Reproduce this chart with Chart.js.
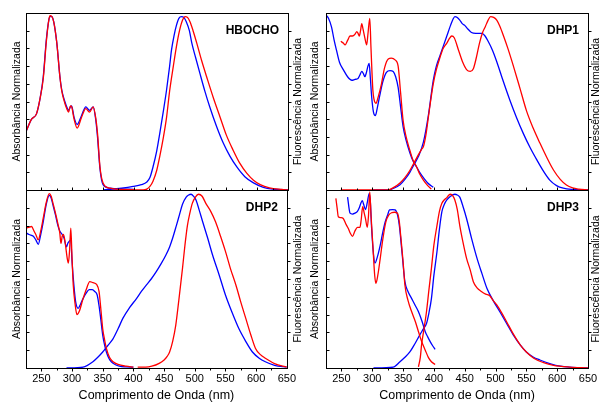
<!DOCTYPE html>
<html>
<head>
<meta charset="utf-8">
<script src="https://cdn.jsdelivr.net/npm/chart.js@4.4.1/dist/chart.umd.min.js"></script>
<style>
  html, body { margin: 0; padding: 0; background: #fff; }
  #wrap { position: relative; width: 602px; height: 403px; overflow: hidden; }
  canvas { position: absolute; }
</style>
</head>
<body>
<div id="wrap">
  <canvas id="c1" width="300" height="200" style="left:0;top:0"></canvas>
  <canvas id="c2" width="313" height="200" style="left:289px;top:0"></canvas>
  <canvas id="c3" width="300" height="223" style="left:0;top:180px"></canvas>
  <canvas id="c4" width="313" height="223" style="left:289px;top:180px"></canvas>
</div>
<script>
// axis ticks
const xTickLabels = [250, 300, 350, 400, 450, 500, 550, 600, 650];
const xTickMarks = [250, 275, 300, 325, 350, 375, 400, 425, 450, 475, 500, 525, 550, 575, 600, 625];
const yTickMarks = [0.1, 0.2, 0.3, 0.4, 0.5, 0.6, 0.7, 0.8, 0.9];

// HBOCHO
const hbAbsX = [225,234,242,248,253,258,262,264,267,270,275,280,283,288,291,294,297,299,303,308,315,322,328,334,338,341,345,350,361,380,400];
const hbAbsBlue = [0.33,0.40,0.43,0.52,0.64,0.85,0.96,0.98,0.98,0.95,0.83,0.64,0.565,0.50,0.47,0.45,0.47,0.475,0.41,0.37,0.42,0.47,0.45,0.47,0.40,0.30,0.12,0.03,0.01,0.005,0.004];
const hbAbsRed = [0.33,0.40,0.43,0.52,0.63,0.84,0.96,0.985,0.98,0.95,0.83,0.64,0.56,0.49,0.46,0.44,0.475,0.47,0.40,0.35,0.41,0.46,0.44,0.47,0.41,0.32,0.13,0.04,0.01,0.003,0.002];
const hbFlBlueX = [350,380,399,412,421,426,431,437,442,448,453,458,461,465,469,473,477,481,485,490,494,500,507,515,523,534,545,556,567,580,594,610,626,650];
const hbFlBlue = [0,0.01,0.02,0.03,0.045,0.07,0.13,0.22,0.32,0.45,0.565,0.70,0.79,0.87,0.93,0.97,0.98,0.975,0.95,0.90,0.83,0.75,0.66,0.56,0.47,0.36,0.265,0.19,0.13,0.075,0.04,0.015,0.005,0];
const hbFlRedX = [380,415,421,426,431,437,442,448,453,458,464,469,474,479,483,487,491,496,502,510,518,529,540,550,561,572,583,594,605,620,640,650];
const hbFlRed = [0,0,0.005,0.02,0.05,0.11,0.19,0.30,0.41,0.56,0.70,0.81,0.90,0.96,0.98,0.975,0.95,0.90,0.83,0.73,0.64,0.52,0.41,0.31,0.225,0.15,0.095,0.055,0.03,0.012,0.003,0];

// DHP1
const d1AbsBlueX = [225,229,234,238,242,247,253,260,267,272,277,280,283,286,288,291,293,295,297,299,302,305,308,312,317,323,329,334,338,342,346,350,355,361,366,372,377,383,390,399];
const d1AbsBlue = [0.99,0.97,0.92,0.85,0.79,0.72,0.68,0.64,0.62,0.625,0.63,0.65,0.67,0.655,0.64,0.67,0.70,0.715,0.63,0.53,0.44,0.42,0.46,0.53,0.61,0.665,0.675,0.67,0.64,0.58,0.47,0.36,0.28,0.21,0.165,0.13,0.10,0.07,0.04,0.015];
const d1AbsRedX = [249,253,256,260,264,268,272,275,277,279,281,283,285,288,291,293,296,298,301,303,306,310,315,320,326,331,337,342,346,350,355,361,366,372,377,383,390,396];
const d1AbsRed = [0.84,0.83,0.82,0.845,0.87,0.87,0.88,0.895,0.885,0.87,0.90,0.94,0.91,0.86,0.82,0.88,0.97,0.80,0.565,0.51,0.49,0.53,0.60,0.69,0.74,0.745,0.735,0.70,0.55,0.395,0.30,0.225,0.17,0.13,0.09,0.056,0.025,0.005];
const d1FlBlueX = [300,326,335,345,353,361,368,375,383,391,399,404,410,415,421,427,431,434,438,442,446,450,455,461,468,473,478,483,488,495,502,512,523,534,545,556,567,578,588,599,610,625,650];
const d1FlBlue = [0,0,0.01,0.03,0.06,0.10,0.145,0.19,0.27,0.42,0.62,0.70,0.76,0.81,0.87,0.93,0.965,0.98,0.975,0.96,0.94,0.93,0.91,0.89,0.885,0.885,0.885,0.87,0.84,0.79,0.725,0.62,0.51,0.41,0.32,0.24,0.17,0.105,0.056,0.025,0.01,0.003,0];
const d1FlRedX = [249,300,326,335,345,353,361,368,375,380,383,387,391,395,399,404,410,415,421,425,429,433,440,447,453,459,464,469,474,479,483,488,492,497,502,507,513,520,529,540,550,561,572,583,594,605,615,625,635,650];
const d1FlRed = [0,0,0,0.015,0.04,0.07,0.11,0.155,0.20,0.23,0.245,0.31,0.41,0.51,0.60,0.68,0.75,0.80,0.83,0.855,0.87,0.86,0.79,0.72,0.68,0.67,0.685,0.75,0.83,0.89,0.92,0.96,0.98,0.975,0.96,0.925,0.87,0.80,0.70,0.57,0.45,0.35,0.265,0.185,0.113,0.06,0.028,0.012,0.005,0];

// DHP2
const d2AbsBlueX = [225,230,237,241,245,249,253,258,263,266,269,273,277,280,284,287,291,293,295,298,300,303,306,310,314,318,323,328,333,337,341,344,347,350,353,356,360,364,370,377,388,400];
const d2AbsBlue = [0.76,0.75,0.74,0.72,0.695,0.75,0.82,0.92,0.97,0.955,0.915,0.86,0.80,0.77,0.75,0.73,0.68,0.70,0.71,0.72,0.60,0.466,0.37,0.335,0.36,0.39,0.42,0.44,0.44,0.43,0.41,0.35,0.27,0.185,0.13,0.09,0.055,0.035,0.02,0.01,0.006,0.005];
const d2AbsRedX = [225,229,234,238,241,245,249,253,258,263,266,269,273,277,280,282,284,286,289,292,294,296,298,300,302,305,308,312,318,323,329,334,340,344,347,350,353,356,361,367,375,388,400];
const d2AbsRed = [0.785,0.79,0.795,0.77,0.75,0.72,0.77,0.84,0.93,0.98,0.965,0.925,0.87,0.81,0.76,0.70,0.74,0.75,0.70,0.62,0.59,0.66,0.785,0.62,0.466,0.36,0.30,0.32,0.39,0.44,0.485,0.48,0.47,0.43,0.33,0.22,0.16,0.11,0.06,0.035,0.02,0.01,0.005];
const d2FlBlueX = [291,318,334,342,350,358,367,375,383,394,405,413,421,429,437,445,453,459,464,470,475,480,486,490,494,498,502,507,513,521,529,540,550,561,572,583,594,605,615,630,650];
const d2FlBlue = [0,0.005,0.035,0.06,0.09,0.125,0.165,0.22,0.28,0.34,0.39,0.43,0.466,0.50,0.54,0.585,0.635,0.68,0.73,0.80,0.86,0.92,0.96,0.972,0.976,0.965,0.944,0.89,0.82,0.73,0.635,0.52,0.41,0.31,0.22,0.15,0.09,0.055,0.035,0.015,0.005];
const d2FlRedX = [407,420,430,442,450,455,459,464,469,474,480,484,488,492,496,501,506,512,518,526,534,542,550,558,567,575,583,591,599,607,615,630,650];
const d2FlRed = [0.005,0.005,0.01,0.026,0.045,0.065,0.09,0.15,0.24,0.38,0.56,0.69,0.80,0.87,0.925,0.96,0.976,0.965,0.925,0.88,0.82,0.74,0.655,0.56,0.466,0.37,0.28,0.19,0.11,0.075,0.055,0.025,0.005];

// DHP3
const d3AbsBlueX = [260,264,268,272,276,279,282,284,286,289,292,295,297,299,302,304.5,308,313,317,321,325,328,333,337,341,344,348,353,358,364,370,375,381,386,390,394,398,402];
const d3AbsBlue = [0.96,0.87,0.865,0.87,0.88,0.90,0.93,0.94,0.92,0.89,0.93,0.98,0.93,0.785,0.64,0.59,0.62,0.69,0.76,0.82,0.86,0.888,0.89,0.888,0.86,0.80,0.66,0.485,0.43,0.39,0.35,0.316,0.26,0.204,0.175,0.148,0.125,0.105];
const d3AbsRedX = [241,243,245,249,253,257,261,264,268,272,276,280,282,284.5,287,289,292,294,296,298,301,304,306,309,313,317,322,327,332,336,341,344,346,350,353,358,364,370,375,380,386,391,396,402];
const d3AbsRed = [0.953,0.90,0.85,0.845,0.84,0.81,0.785,0.76,0.74,0.77,0.79,0.79,0.83,0.906,0.87,0.84,0.79,0.86,0.99,0.86,0.69,0.52,0.476,0.52,0.616,0.72,0.82,0.86,0.873,0.875,0.87,0.82,0.75,0.60,0.466,0.38,0.316,0.26,0.204,0.15,0.10,0.06,0.035,0.02];
const d3FlBlueX = [302,334,345,353,361,369,377,383,388,392,396,400,405,409,413,417,421,427,434,438,442,447,453,461,470,478,486,496,507,518,529,540,550,561,572,588,605,625,650];
const d3FlBlue = [0,0.005,0.035,0.06,0.09,0.135,0.185,0.22,0.25,0.31,0.39,0.52,0.653,0.78,0.878,0.92,0.944,0.965,0.976,0.972,0.96,0.91,0.84,0.73,0.616,0.53,0.448,0.38,0.316,0.25,0.185,0.13,0.09,0.062,0.045,0.025,0.01,0.004,0];
const d3FlRedX = [375,378,380,384,388,392,396,400,405,409,413,417,421,424,427,431,434,438,442,447,453,459,464,470,477,484,491,496,502,510,518,529,540,550,562,578,594,620,650];
const d3FlRed = [0.007,0.06,0.13,0.22,0.316,0.44,0.56,0.69,0.80,0.88,0.925,0.945,0.957,0.97,0.976,0.965,0.944,0.89,0.80,0.71,0.616,0.55,0.485,0.45,0.43,0.415,0.405,0.38,0.354,0.31,0.26,0.19,0.13,0.09,0.055,0.03,0.015,0.005,0];

const FONT = '"Liberation Sans", Arial, sans-serif';
const RED = '#ff0000';
const BLUE = '#0000ff';

// frame, inward/outward tick marks, panel name and right-hand title
const frame = {
  id: 'frame',
  afterDraw(chart, args, o) {
    const { ctx, chartArea: a, scales } = chart;
    const L = Math.round(a.left) + 0.5, R = Math.round(a.right) + 0.5;
    const T = Math.round(a.top) + 0.5, B = Math.round(a.bottom) + 0.5;
    ctx.save();
    ctx.strokeStyle = '#000';
    ctx.lineWidth = 1;
    ctx.strokeRect(L, T, R - L, B - T);
    ctx.beginPath();
    yTickMarks.forEach(v => {
      const y = Math.round(scales.y.getPixelForValue(v)) + 0.5;
      ctx.moveTo(L, y); ctx.lineTo(L + 3, y);
      ctx.moveTo(R, y); ctx.lineTo(R + 3, y);
    });
    xTickMarks.forEach(v => {
      const x = Math.round(scales.x.getPixelForValue(v)) + 0.5;
      const len = v % 50 === 0 ? 3 : 2;
      ctx.moveTo(x, B);
      ctx.lineTo(x, o.bottomAxis ? B + len : B - len);
    });
    ctx.stroke();

    ctx.fillStyle = '#000';
    ctx.font = 'bold 12px ' + FONT;
    ctx.textAlign = 'right';
    ctx.textBaseline = 'middle';
    ctx.fillText(o.label, a.right - 9, a.top + 17.5);

    if (o.rightTitle) {
      ctx.font = '10.5px ' + FONT;
      ctx.textAlign = 'center';
      ctx.translate(a.right + 8, (a.top + a.bottom) / 2);
      ctx.rotate(-Math.PI / 2);
      ctx.fillText(o.rightTitle, 0, 0);
    }
    ctx.restore();
  }
};

function curve(xs, ys, color) {
  return {
    data: xs.map((x, i) => ({ x: x, y: ys[i] })),
    borderColor: color,
    borderWidth: 1.3,
    pointRadius: 0,
    fill: false,
    cubicInterpolationMode: 'monotone'
  };
}

function panel(id, cfg) {
  const rightSide = cfg.right;
  const bottom = cfg.bottom;
  new Chart(document.getElementById(id), {
    type: 'line',
    data: { datasets: cfg.series },
    plugins: [frame],
    options: {
      responsive: false,
      animation: false,
      events: [],
      layout: {
        padding: { left: 0, right: rightSide ? 14 : 12, top: bottom ? 10 : 13, bottom: bottom ? 0 : 10 }
      },
      plugins: {
        legend: { display: false },
        tooltip: { enabled: false },
        frame: { label: cfg.label, bottomAxis: bottom, rightTitle: rightSide ? 'Fluorescência Normalizada' : null }
      },
      scales: {
        x: {
          type: 'linear',
          min: 225,
          max: 650,
          display: bottom,
          afterBuildTicks: s => { s.ticks = xTickLabels.map(v => ({ value: v })); },
          afterFit: s => { s.height = bottom ? 35 : 0; },
          grid: { display: false, drawTicks: false },
          border: { display: false },
          ticks: { autoSkip: false, maxRotation: 0, padding: 4, color: '#000', font: { family: FONT, size: 11 } },
          title: {
            display: true,
            text: 'Comprimento de Onda (nm)',
            color: '#000',
            padding: { top: 0, bottom: 0 },
            font: { family: FONT, size: 12.5 }
          }
        },
        y: {
          min: 0,
          max: 1,
          position: 'left',
          afterFit: s => { s.width = rightSide ? 37 : 26; },
          grid: { display: false, drawTicks: false },
          border: { display: false },
          ticks: { display: false },
          title: {
            display: true,
            text: rightSide ? ['Fluorescência Normalizada', 'Absorbância Normalizada'] : 'Absorbância Normalizada',
            color: '#000',
            padding: { top: rightSide ? 0 : 11, bottom: 0 },
            font: { family: FONT, size: 10.5, lineHeight: rightSide ? 1.65 : 1.2 }
          }
        }
      }
    }
  });
}

panel('c1', {
  label: 'HBOCHO', right: false, bottom: false,
  series: [curve(hbAbsX, hbAbsRed, RED), curve(hbFlRedX, hbFlRed, RED),
           curve(hbAbsX, hbAbsBlue, BLUE), curve(hbFlBlueX, hbFlBlue, BLUE)]
});
panel('c2', {
  label: 'DHP1', right: true, bottom: false,
  series: [curve(d1AbsRedX, d1AbsRed, RED), curve(d1FlRedX, d1FlRed, RED),
           curve(d1AbsBlueX, d1AbsBlue, BLUE), curve(d1FlBlueX, d1FlBlue, BLUE)]
});
panel('c3', {
  label: 'DHP2', right: false, bottom: true,
  series: [curve(d2AbsRedX, d2AbsRed, RED), curve(d2FlRedX, d2FlRed, RED),
           curve(d2AbsBlueX, d2AbsBlue, BLUE), curve(d2FlBlueX, d2FlBlue, BLUE)]
});
panel('c4', {
  label: 'DHP3', right: true, bottom: true,
  series: [curve(d3AbsRedX, d3AbsRed, RED), curve(d3FlRedX, d3FlRed, RED),
           curve(d3AbsBlueX, d3AbsBlue, BLUE), curve(d3FlBlueX, d3FlBlue, BLUE)]
});
</script>
</body>
</html>
